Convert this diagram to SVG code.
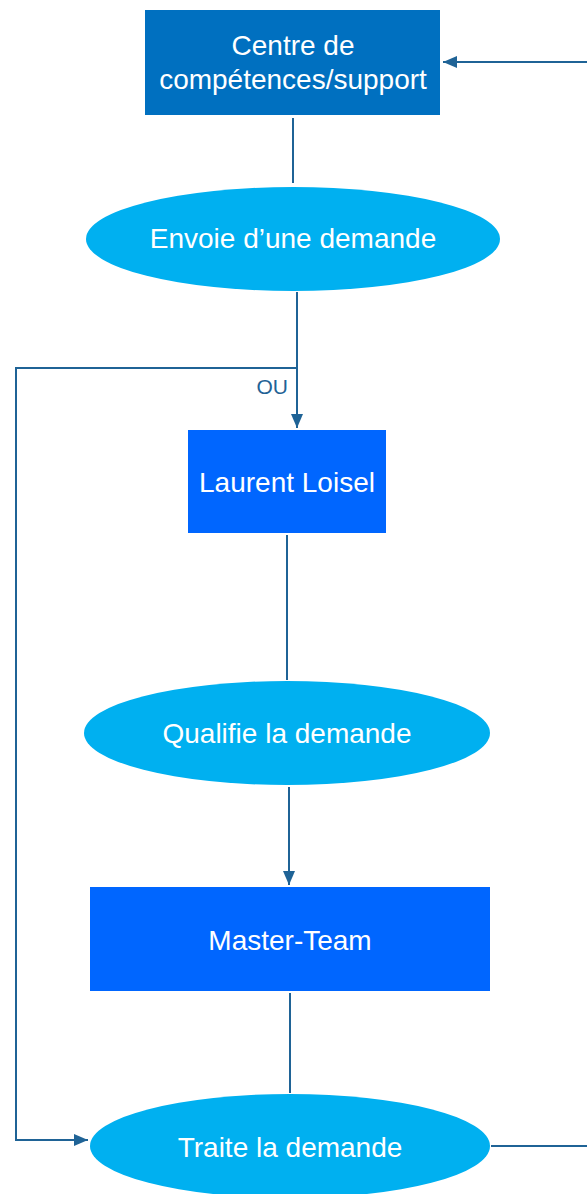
<svg xmlns="http://www.w3.org/2000/svg" width="587" height="1194" viewBox="0 0 587 1194">
<style>
.t{font-family:"Liberation Sans",Arial,sans-serif;font-size:28px;fill:#fff;text-anchor:middle}
.c{fill:none;stroke:#1F6396;stroke-width:2}
.lbl{font-family:"Liberation Sans",Arial,sans-serif;font-size:21px;fill:#1F6396;text-anchor:end}
</style>
<defs>
<marker id="ah" viewBox="0 0 14 12" refX="14" refY="6" markerWidth="14" markerHeight="12" markerUnits="userSpaceOnUse" orient="auto">
<path d="M0,0 L14,6 L0,12 Z" fill="#1F6396"/>
</marker>
</defs>
<rect width="587" height="1194" fill="#fff"/>
<g id="connectors">
<path class="c" d="M587,62 H443" marker-end="url(#ah)"/>
<path class="c" d="M293,118 V183"/>
<path class="c" d="M297,292 V428" marker-end="url(#ah)"/>
<path class="c" d="M297,368 H16 V1140 H88" marker-end="url(#ah)"/>
<text class="lbl" x="288" y="394">OU</text>
<path class="c" d="M287,535 V680"/>
<path class="c" d="M289,787 V885" marker-end="url(#ah)"/>
<path class="c" d="M290,993 V1093"/>
<path class="c" d="M491,1146 H587"/>
</g>
<g id="centre">
<rect x="145" y="10" width="295" height="105" fill="#0070C0"/>
<text class="t" x="293" y="55">Centre de</text>
<text class="t" x="293" y="89">compétences/support</text>
</g>
<g id="envoie">
<ellipse cx="293" cy="239" rx="207" ry="52" fill="#00B0F0"/>
<text class="t" x="293" y="248">Envoie d’une demande</text>
</g>
<g id="laurent">
<rect x="188" y="430" width="198" height="103" fill="#0066FF"/>
<text class="t" x="287" y="492">Laurent Loisel</text>
</g>
<g id="qualifie">
<ellipse cx="287" cy="733" rx="203" ry="52" fill="#00B0F0"/>
<text class="t" x="287" y="743">Qualifie la demande</text>
</g>
<g id="master">
<rect x="90" y="887" width="400" height="104" fill="#0066FF"/>
<text class="t" x="290" y="950">Master-Team</text>
</g>
<g id="traite">
<ellipse cx="290" cy="1146" rx="200" ry="52" fill="#00B0F0"/>
<text class="t" x="290" y="1157">Traite la demande</text>
</g>
</svg>
